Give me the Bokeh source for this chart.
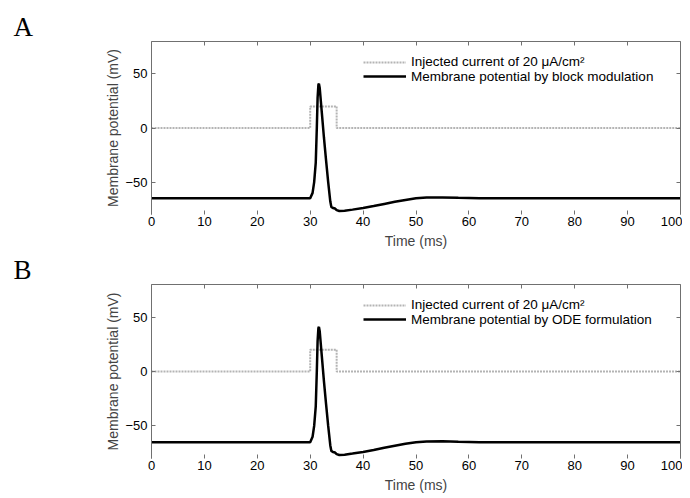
from bokeh.plotting import figure
from bokeh.models import (Range1d, LinearAxis, FixedTicker, Legend, LegendItem,
                          Title, CustomJSTickFormatter)
from bokeh.layouts import column
from bokeh.embed import file_html
from bokeh.resources import INLINE

# ---- data ----
time_ms = [0, 30, 30.45, 30.75, 31.05, 31.25, 31.4, 31.55, 31.65, 31.8, 32.2, 32.6,
           33.0, 33.4, 33.8, 34.0, 34.3, 34.7, 35.0, 35.5, 36.5, 38, 40, 42, 44, 46,
           48, 50, 52, 55, 58, 62, 70, 100]
vm_block = [-65, -65, -60, -50, -32, 0, 28, 40, 41, 37, 14, -9,
            -30, -50, -68, -73, -74, -74.5, -76, -76.8, -76.5, -75.5, -74, -72.2, -70.2, -68.3,
            -66.5, -65, -64.3, -64.2, -64.6, -65, -65, -65]
vm_ode = [-65, -65, -60, -50, -32, 0, 28, 40, 41, 37, 14, -9,
          -30, -50, -68, -73, -74, -74.5, -76, -76.8, -76.5, -75.5, -74, -72.2, -70.2, -68.3,
          -66.5, -65, -64.3, -64.2, -64.6, -65, -65, -65]
stim_t = [0, 30, 30, 35, 35, 100]
stim_i = [0, 0, 20, 20, 0, 0]
x_ticks = [0, 10, 20, 30, 40, 50, 60, 70, 80, 90, 100]
y_ticks = [-50, 0, 50]

# letter, series name, data, top border, frame height, bottom border, legend y locs
panels = [
    ("A", "Membrane potential by block modulation", vm_block, 41, 173, 35, (142.2, 127.7)),
    ("B", "Membrane potential by ODE formulation", vm_ode, 33, 174, 40, (143.2, 128.7)),
]

FONT = "Liberation Sans"
AXCOL = "#707070"


def blank_fmt():
    return CustomJSTickFormatter(code="return ''")


figs = []
for letter, name, vm, btop, fh, bbot, legy in panels:
    p = figure(frame_width=529, frame_height=fh,
               min_border_left=151, min_border_right=2,
               min_border_top=btop, min_border_bottom=bbot,
               x_range=Range1d(0, 100), y_range=Range1d(-80, 80),
               output_backend="svg", toolbar_location=None,
               background_fill_color="white", border_fill_color="white")
    p.outline_line_color = None
    p.grid.visible = False

    r_cur = p.line(stim_t, stim_i, line_color="#b4b4b4", line_width=2, line_dash="2 1")
    r_vm = p.line(time_ms, vm, line_color="black", line_width=2.5)

    # bottom axis
    xa = p.xaxis[0]
    xa.ticker = FixedTicker(ticks=x_ticks)
    xa.axis_line_color = None
    xa.major_tick_in = 4
    xa.major_tick_out = 0
    xa.major_tick_line_color = AXCOL
    xa.minor_tick_line_color = None
    xa.major_label_standoff = 2
    xa.major_label_text_font = FONT
    xa.major_label_text_font_size = "13px"
    xa.major_label_text_color = "black"
    xa.axis_label = "Time (ms)"
    xa.axis_label_text_font = FONT
    xa.axis_label_text_font_size = "14px"
    xa.axis_label_text_font_style = "normal"
    xa.axis_label_standoff = 4

    # left axis
    ya = p.yaxis[0]
    ya.ticker = FixedTicker(ticks=y_ticks)
    ya.axis_line_color = AXCOL
    ya.major_tick_in = 4
    ya.major_tick_out = 0
    ya.major_tick_line_color = AXCOL
    ya.minor_tick_line_color = None
    ya.major_label_standoff = 4
    ya.major_label_text_font = FONT
    ya.major_label_text_font_size = "13px"
    ya.major_label_text_color = "black"
    ya.axis_label = "Membrane potential (mV)"
    ya.axis_label_text_font = FONT
    ya.axis_label_text_font_size = "14px"
    ya.axis_label_text_font_style = "normal"
    ya.axis_label_standoff = 1

    # top and right box axes (ticks only)
    top = LinearAxis(ticker=FixedTicker(ticks=x_ticks), formatter=blank_fmt(),
                     axis_line_color=AXCOL, major_tick_in=4, major_tick_out=0,
                     major_tick_line_color=AXCOL, minor_tick_line_color=None,
                     major_label_standoff=0, major_label_text_font_size="1px")
    p.add_layout(top, "above")
    right = LinearAxis(ticker=FixedTicker(ticks=y_ticks), formatter=blank_fmt(),
                       axis_line_color=AXCOL, major_tick_in=4, major_tick_out=0,
                       major_tick_line_color=AXCOL, minor_tick_line_color=None,
                       major_label_standoff=0, major_label_text_font_size="1px")
    p.add_layout(right, "right")

    # panel letter
    p.title = Title(text=letter, align="left", offset=-138, standoff=0,
                    text_font="Liberation Serif", text_font_size="27px",
                    text_font_style="normal", text_color="black")

    # legend (two single-row legends for exact row spacing)
    for item_label, rend, yloc in [("Injected current of 20 \u03bcA/cm\u00b2", r_cur, legy[0]),
                                    (name, r_vm, legy[1])]:
        lg = Legend(items=[LegendItem(label=item_label, renderers=[rend])],
                    location=(212, yloc), padding=0, margin=0, spacing=0,
                    glyph_width=43, glyph_height=20, label_height=20,
                    label_standoff=5, border_line_color=None,
                    background_fill_alpha=0,
                    label_text_font=FONT, label_text_font_size="13.5px",
                    label_text_color="black")
        p.add_layout(lg, "center")

    figs.append(p)

layout = column(*figs, spacing=0)
open("out.html", "w").write(file_html(layout, INLINE))
